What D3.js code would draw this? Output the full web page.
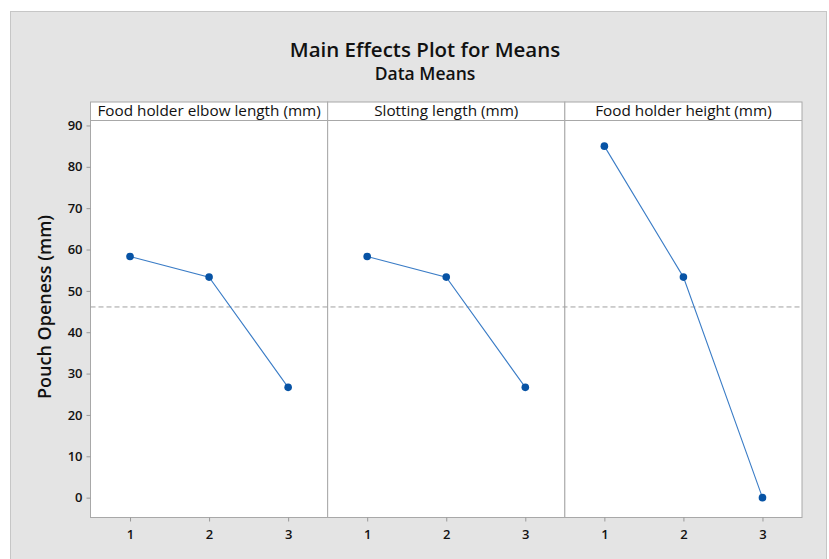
<!DOCTYPE html>
<html>
<head>
<meta charset="utf-8">
<script src="https://cdn.jsdelivr.net/npm/d3@7"></script>
<style>
  body { margin: 0; background: #fff; }
  text { font-family: "Open Sans", "Noto Sans", sans-serif; fill: #111; }
</style>
</head>
<body>
<div id="graph"></div>
<script>
var factors = ["Food holder elbow length (mm)", "Slotting length (mm)", "Food holder height (mm)"]
var levels = [1, 2, 3]
var elbowMeans = [58.33, 53.33, 26.67]
var slottingMeans = [58.33, 53.33, 26.67]
var heightMeans = [85.0, 53.33, 0.0]
var yTicks = [0, 10, 20, 30, 40, 50, 60, 70, 80, 90]
var grandMean = 46.11

var width = 829, height = 559
var svg = d3.select("#graph").append("svg").attr("width", width).attr("height", height)

// gray frame
svg.append("rect")
    .attr("x", 10.5).attr("y", 11.5)
    .attr("width", 816).attr("height", 560)
    .attr("fill", "#e4e4e4").attr("stroke", "#c6c6c6")

svg.append("text")
    .attr("x", 425).attr("y", 57)
    .attr("text-anchor", "middle")
    .style("font-size", "20.5px").style("font-weight", 600)
    .text("Main Effects Plot for Means")
svg.append("text")
    .attr("x", 425).attr("y", 80)
    .attr("text-anchor", "middle")
    .style("font-size", "17.5px").style("font-weight", 600)
    .text("Data Means")

var plotLeft = 90.5, plotRight = 802, headTop = 102, plotTop = 120.5, plotBottom = 517.5
var panelW = (plotRight - plotLeft) / 3

var y = d3.scaleLinear().domain([-4.8, 91.2]).range([plotBottom, plotTop])

var allMeans = [elbowMeans, slottingMeans, heightMeans]

// panel backgrounds + headers
factors.forEach(function(f, i) {
    var x0 = plotLeft + i * panelW
    svg.append("rect")
        .attr("x", x0).attr("y", headTop)
        .attr("width", panelW).attr("height", plotBottom - headTop)
        .attr("fill", "#fff").attr("stroke", "#a8a8a8")
    svg.append("line")
        .attr("x1", x0).attr("x2", x0 + panelW)
        .attr("y1", plotTop).attr("y2", plotTop)
        .attr("stroke", "#a8a8a8")
    svg.append("text")
        .attr("x", x0 + panelW / 2).attr("y", headTop + 14)
        .attr("text-anchor", "middle")
        .style("font-size", "15.3px").style("font-weight", 500)
        .text(f)
})

// y axis
var yAxis = svg.append("g")
    .attr("transform", "translate(" + plotLeft + ",0)")
    .call(d3.axisLeft(y).tickValues(yTicks).tickSize(4).tickPadding(4))
yAxis.select(".domain").remove()
yAxis.selectAll("line").attr("stroke", "#999")
yAxis.selectAll("text").style("font-size", "13px").style("font-weight", 600).attr("fill", "#222")

svg.append("text")
    .attr("transform", "translate(51,307) rotate(-90)")
    .attr("text-anchor", "middle")
    .style("font-size", "18px").style("font-weight", 600)
    .text("Pouch Openess (mm)")

// grand mean reference line
svg.append("line")
    .attr("x1", plotLeft).attr("x2", plotRight)
    .attr("y1", y(grandMean)).attr("y2", y(grandMean))
    .attr("stroke", "#a0a0a0").attr("stroke-dasharray", "5,3")

// panels
allMeans.forEach(function(means, i) {
    var x0 = plotLeft + i * panelW
    var x = d3.scaleLinear().domain([0.5, 3.5]).range([x0, x0 + panelW])
    var g = svg.append("g")

    var xAxis = g.append("g")
        .attr("transform", "translate(0," + plotBottom + ")")
        .call(d3.axisBottom(x).tickValues(levels).tickFormat(d3.format("d")).tickSize(4).tickPadding(8))
    xAxis.select(".domain").remove()
    xAxis.selectAll("line").attr("stroke", "#999")
    xAxis.selectAll("text").style("font-size", "13px").style("font-weight", 600).attr("fill", "#222")

    var pts = levels.map(function(l, j) { return [l, means[j]] })
    g.append("path")
        .datum(pts)
        .attr("fill", "none")
        .attr("stroke", "#3a7cc6")
        .attr("stroke-width", 1.1)
        .attr("d", d3.line().x(function(d) { return x(d[0]) }).y(function(d) { return y(d[1]) }))
    g.selectAll("circle")
        .data(pts)
        .enter().append("circle")
        .attr("cx", function(d) { return x(d[0]) })
        .attr("cy", function(d) { return y(d[1]) })
        .attr("r", 3.8)
        .attr("fill", "#0753a5")
})
</script>
</body>
</html>
